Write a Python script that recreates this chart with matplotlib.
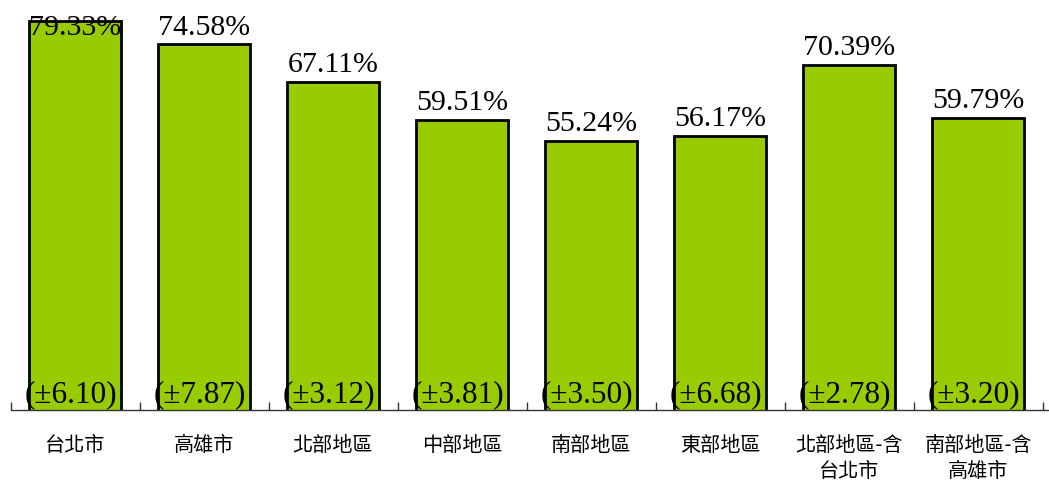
import numpy as np
import matplotlib
matplotlib.use("Agg")
import matplotlib.pyplot as plt

# categories and values
regions = ["台北市", "高雄市", "北部地區", "中部地區", "南部地區", "東部地區",
           "北部地區-含\n台北市", "南部地區-含\n高雄市"]
rates = [79.33, 74.58, 67.11, 59.51, 55.24, 56.17, 70.39, 59.79]
margins = [6.10, 7.87, 3.12, 3.81, 3.50, 6.68, 2.78, 3.20]

BAR_COLOR = "#99CC00"
SERIF = "Liberation Serif"
CJK = ["Noto Sans CJK TC", "DejaVu Sans"]

fig = plt.figure(figsize=(10.49, 4.81), dpi=100)
ax = fig.add_axes([10.5 / 1049, 70 / 481, 1 - 10.5 / 1049, 411 / 481])

x = np.arange(len(regions))
ax.bar(x, rates, width=0.713, color=BAR_COLOR, edgecolor="black", linewidth=2.0, zorder=2)

ax.set_xlim(-0.5, 7.55)
ax.set_ylim(1.2, 83.7)

# value labels above bars (top one is held inside the picture, as in the original)
for xi, v in zip(x, rates):
    ax.text(xi, min(v + 2.2, 76.7), f"{v:.2f}%", ha="center", va="baseline",
            fontsize=21.5, family=SERIF, color="black", zorder=3)

# sampling error labels near the base of each bar
for xi, m in zip(x, margins):
    ax.text(xi - 0.03, 3.0, f"(±{m:.2f})", ha="center", va="baseline",
            fontsize=22.5, family=SERIF, color="black", zorder=3)

# axis styling: only bottom line, ticks at category boundaries pointing inward
for side in ["top", "left", "right"]:
    ax.spines[side].set_visible(False)
ax.spines["bottom"].set_color("#333333")
ax.spines["bottom"].set_linewidth(1.0)
ax.set_yticks([])

ax.set_xticks(x)
ax.set_xticklabels(regions, family=CJK, fontsize=14.5, linespacing=1.35)
ax.tick_params(axis="x", which="major", length=0, pad=17)
ax.set_xticks(np.arange(-0.5, 8.0, 1.0), minor=True)
ax.tick_params(axis="x", which="minor", direction="in", length=6, width=1.0, color="#333333")

fig.savefig("out.png", dpi=100)
